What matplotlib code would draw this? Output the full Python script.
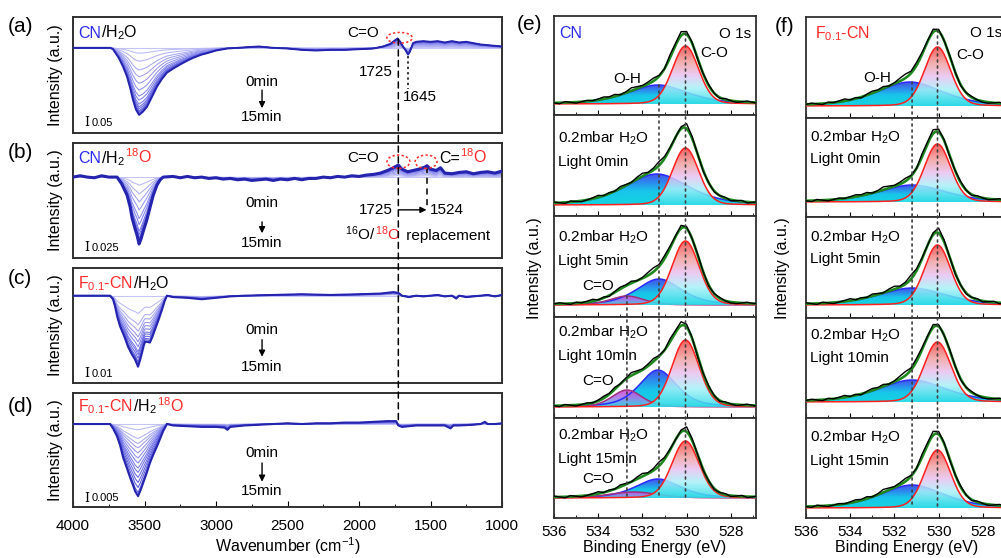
import numpy as np
import matplotlib
matplotlib.use('Agg')
import matplotlib.pyplot as plt
import matplotlib.transforms as mtransforms
from matplotlib.patches import Ellipse, ConnectionPatch
from matplotlib.colors import LinearSegmentedColormap

plt.rcParams.update({
    'font.family': ['Liberation Sans', 'DejaVu Sans'],
    'mathtext.fontset': 'custom',
    'mathtext.rm': 'Liberation Sans',
    'mathtext.it': 'Liberation Sans:italic',
    'mathtext.bf': 'Liberation Sans:bold',
    'axes.linewidth': 1.3,
    'axes.edgecolor': '#303030',
})

# ---------------- FTIR data (final 15 min spectrum shape, normalised) -------------
wn_a = [4000, 3800, 3740, 3720, 3680, 3650, 3622, 3600, 3580, 3560, 3538, 3510, 3483, 3450,
        3413, 3380, 3343, 3300, 3252, 3200, 3161, 3100, 3063, 3000, 2923, 2850, 2700, 2600,
        2500, 2400, 2300, 2200, 2100, 2000, 1900, 1832, 1780, 1750, 1730, 1715, 1692, 1670,
        1657, 1645, 1622, 1600, 1550, 1500, 1450, 1400, 1350, 1300, 1250, 1200, 1150, 1100,
        1050, 1000]
ir_a = [0, 0, 0, -0.02, -0.15, -0.28, -0.43, -0.6, -0.78, -0.92, -1.0, -0.95, -0.88, -0.74,
        -0.58, -0.47, -0.37, -0.31, -0.25, -0.19, -0.15, -0.1, -0.08, -0.04, -0.01, 0.0, 0.02, 0.0,
        -0.01, -0.03, -0.04, -0.03, -0.03, -0.02, -0.01, 0.02, 0.06, 0.11, 0.14, 0.1, 0.02, -0.05,
        -0.1, -0.06, 0.07, 0.09, 0.1, 0.09, 0.1, 0.08, 0.1, 0.08, 0.09, 0.07, 0.05, 0.04,
        0.03, 0.02]
scales_a = [0, 0.08, 0.2, 0.33, 0.43, 0.53, 0.63, 0.72, 0.78, 0.84, 0.88, 0.91, 0.94, 0.96, 0.98, 1.0]

wn_b = [4000, 3950, 3900, 3850, 3800, 3750, 3692, 3660, 3622, 3600, 3587, 3565, 3552, 3538,
        3525, 3510, 3485, 3462, 3440, 3413, 3390, 3370, 3300, 3250, 3200, 3150, 3100, 3050,
        3000, 2950, 2900, 2850, 2800, 2750, 2700, 2650, 2600, 2550, 2500, 2450, 2400, 2350,
        2300, 2250, 2200, 2150, 2100, 2050, 2000, 1950, 1900, 1850, 1800, 1760, 1725, 1700,
        1660, 1620, 1580, 1540, 1524, 1500, 1460, 1430, 1400, 1350, 1300, 1250, 1200, 1150,
        1100, 1050, 1000]
ir_b = [0, 0.02, 0.0, -0.01, 0.02, 0.0, 0.0, -0.1, -0.27, -0.45, -0.61, -0.78, -0.87, -1.0,
        -0.93, -0.82, -0.65, -0.46, -0.28, -0.12, -0.04, 0.0, 0.01, -0.01, 0.01, -0.01, 0.0, -0.02,
        -0.01, -0.03, -0.02, -0.04, -0.03, -0.05, -0.04, -0.03, -0.05, -0.03, -0.04, -0.02, -0.04, -0.02,
        -0.02, 0.0, -0.01, 0.01, 0.0, 0.02, 0.01, 0.03, 0.04, 0.06, 0.1, 0.14, 0.18, 0.12,
        0.08, 0.1, 0.12, 0.15, 0.17, 0.12, 0.1, 0.14, 0.06, 0.05, 0.07, 0.08, 0.05, 0.07,
        0.08, 0.06, 0.09]
scales_b = [0, 0.12, 0.25, 0.37, 0.49, 0.62, 0.71, 0.81, 0.86, 0.91, 0.95, 0.985, 1.0]

wn_c = [4000, 3800, 3741, 3720, 3706, 3690, 3671, 3640, 3615, 3590, 3566, 3545, 3530, 3517,
        3505, 3496, 3480, 3462, 3445, 3427, 3400, 3378, 3360, 3343, 3300, 3200, 3100, 3000,
        2900, 2800, 2600, 2400, 2200, 2000, 1850, 1760, 1725, 1700, 1650, 1600, 1550, 1500,
        1450, 1400, 1350, 1320, 1300, 1250, 1200, 1150, 1100, 1050, 1000]
ir_c = [0, 0, 0, -0.05, -0.15, -0.3, -0.43, -0.58, -0.72, -0.82, -0.9, -1.0, -0.9, -0.8,
        -0.7, -0.65, -0.65, -0.66, -0.58, -0.48, -0.33, -0.2, -0.08, 0.0, -0.02, -0.03, -0.05, -0.03,
        -0.01, 0.0, 0.01, 0.02, 0.01, 0.02, 0.03, 0.05, 0.04, 0.0, -0.02, 0.0, -0.01, 0.0,
        0.01, -0.01, 0.0, -0.04, 0.0, -0.02, -0.01, 0.0, 0.01, -0.01, 0.01]
scales_c = [0, 0.25, 0.41, 0.5, 0.58, 0.65, 0.72, 0.79, 0.83, 0.88, 0.93, 0.96, 1.0]

wn_d = [4000, 3780, 3741, 3720, 3692, 3670, 3650, 3625, 3601, 3580, 3566, 3545, 3528, 3510,
        3485, 3462, 3440, 3413, 3390, 3370, 3343, 3300, 3200, 3100, 3000, 2940, 2920, 2900,
        2800, 2700, 2600, 2500, 2400, 2300, 2200, 2100, 2000, 1900, 1800, 1740, 1725, 1700,
        1650, 1600, 1500, 1400, 1360, 1340, 1300, 1200, 1150, 1120, 1100, 1050, 1000]
ir_d = [0, 0, 0, -0.06, -0.17, -0.3, -0.46, -0.6, -0.74, -0.85, -0.93, -1.0, -0.92, -0.82,
        -0.68, -0.54, -0.43, -0.31, -0.2, -0.1, 0.0, -0.02, -0.03, -0.04, -0.04, -0.05, -0.08, -0.04,
        -0.02, -0.01, 0.0, 0.01, 0.0, 0.01, 0.01, 0.02, 0.02, 0.03, 0.04, 0.04, -0.02, -0.04,
        -0.03, -0.02, -0.02, -0.02, -0.06, -0.02, -0.02, -0.01, 0.0, 0.03, 0.0, 0.0, 0.01]
scales_d = [0, 0.08, 0.2, 0.27, 0.33, 0.4, 0.47, 0.54, 0.61, 0.67, 0.74, 0.81, 0.88, 0.95, 1.0]

ftir_ticks = [4000, 3500, 3000, 2500, 2000, 1500, 1000]

# ---------------- XPS peak parameters (pixel-height units) -------------------------
e_co_center = [530.05, 530.05, 530.05, 530.05, 530.05]
e_co_height = [58, 57, 64, 67, 57]
e_co_fwhm = [1.4, 1.4, 1.45, 1.45, 1.45]
e_oh_center = [531.3, 531.35, 531.25, 531.3, 531.3]
e_oh_height = [19, 31, 26, 37, 19]
e_oh_fwhm = [3.2, 3.4, 2.4, 2.0, 2.4]
e_cdo_center = [532.7, 532.7, 532.7, 532.7, 532.4]
e_cdo_height = [0, 0, 9, 17, 6]
e_cdo_fwhm = [1.8, 1.8, 1.8, 1.6, 2.6]

f_co_center = [530.05, 530.05, 530.05, 530.05, 530.05]
f_co_height = [59, 58, 60, 60, 58]
f_co_fwhm = [1.4, 1.4, 1.4, 1.45, 1.4]
f_oh_center = [531.3, 531.2, 531.2, 531.2, 531.2]
f_oh_height = [24, 17, 17, 22, 23]
f_oh_fwhm = [3.5, 3.6, 3.6, 3.6, 3.4]

res_A = [0, -1, 1, 0, -1, 0, 1, 0, 1, 2, 1, 2, 0, 1, 3, 2, 1, 2, 3, 1,
         0, 3, 2, 4, 3, 1, -1, 0, 1, 0, -1, 1, 0, -1, 0, 1, 0, -1]
res_B = [1, 0, -1, 1, 0, -1, 0, 1, 2, 0, 1, 0, 2, 1, 0, 2, 3, 1, 2, 4,
         2, 1, 0, 2, 5, 2, 0, -1, 0, -1, 0, 1, -1, 0, 1, -1, 0, 1]
res_C = [0, 1, 0, -1, 1, 0, 1, 2, 0, 1, -1, 1, 2, 1, 2, 0, 1, 3, 4, 2,
         3, 2, 1, 3, 2, 0, 1, 0, -1, 0, 1, 0, -1, -1, 0, 1, 0, 0]
e_res = [res_A, res_B, res_C, res_A, res_B]
f_res = [res_C, res_A, res_B, res_C, res_A]

xps_ticks = [536, 534, 532, 530, 528]
e_conditions = [None, 'Light 0min', 'Light 5min', 'Light 10min', 'Light 15min']
f_conditions = [None, 'Light 0min', 'Light 5min', 'Light 10min', 'Light 15min']

# ---------------------------------------------------------------------------------
W, H = 1001, 558
fig = plt.figure(figsize=(W / 100, H / 100), dpi=100)
RED = '#ff2a2a'
BLUE = '#2a2aee'


def fax(x0, y0, x1, y1):
    return fig.add_axes([x0 / W, 1 - y1 / H, (x1 - x0) / W, (y1 - y0) / H])


def multicolor(ax, x, y, parts, fontsize=11.5):
    renderer = fig.canvas.get_renderer()
    t = ax.transData
    for p in parts:
        s, c = p[0], p[1]
        dx = p[2] if len(p) > 2 else 0
        if dx:
            t = mtransforms.offset_copy(t, fig=fig, x=dx, units='dots')
        txt = ax.text(x, y, s, color=c, transform=t, fontsize=fontsize,
                      va='baseline', ha='left')
        ex = txt.get_window_extent(renderer)
        t = mtransforms.offset_copy(txt.get_transform(), fig=fig, x=ex.width, units='dots')


blue_cmap = LinearSegmentedColormap.from_list('bl', ['#c4c4f6', '#8080ee', '#4646d2'])


def draw_ftir(ax, wn, ir, scales, lw_final=1.7):
    ir = np.array(ir)
    n = len(scales)
    for i, s in enumerate(scales):
        if i == n - 1:
            ax.plot(wn, ir * s, color='#2424ae', lw=lw_final, zorder=3)
        else:
            ax.plot(wn, ir * s, color=blue_cmap(i / (n - 1)), lw=0.75, zorder=2)
    ax.set_xlim(4000, 1000)
    ax.set_yticks([])
    ax.yaxis.set_label_coords(-0.023, 0.5)
    ax.set_ylabel('Intensity (a.u.)', fontsize=11.5)
    for sp in ax.spines.values():
        sp.set_linewidth(1.4)


left_boxes = [(17, 133), (143, 258), (268, 383), (393, 507)]
ylims = [(-1.27, 0.46), (-1.21, 0.51), (-1.23, 0.39), (-1.15, 0.43)]
datasets = [(wn_a, ir_a, scales_a), (wn_b, ir_b, scales_b), (wn_c, ir_c, scales_c), (wn_d, ir_d, scales_d)]
final_lw = [1.4, 2.2, 1.5, 1.5]
lax = []
for (y0, y1), yl, (wn, ir, sc), lwf in zip(left_boxes, ylims, datasets, final_lw):
    ax = fax(73, y0, 502, y1)
    draw_ftir(ax, wn, ir, sc, lwf)
    ax.set_ylim(*yl)
    lax.append(ax)

for ax in lax[:3]:
    ax.tick_params(bottom=False, labelbottom=False)
axd = lax[3]
axd.set_xticks(ftir_ticks)
axd.set_xticks(np.arange(1250, 4000, 500), minor=True)
axd.tick_params(axis='x', which='major', direction='in', length=4, labelsize=11, pad=8.5)
axd.tick_params(axis='x', which='minor', direction='in', length=2.5)
axd.set_xlabel('Wavenumber (cm$^{-1}$)', fontsize=11.5, labelpad=2)

# labels in FTIR panels
multicolor(lax[0], 3965, 0.15, [('CN', BLUE), ('/H$_2$O', 'k')])
multicolor(lax[1], 3965, 0.21, [('CN', BLUE), ('/H$_2$', 'k'), ('$^{18}$O', RED)])
multicolor(lax[2], 3965, 0.11, [('F$_{0.1}$-CN', RED), ('/H$_2$O', 'k')])
multicolor(lax[3], 3965, 0.17, [('F$_{0.1}$-CN', RED), ('/H$_2$', 'k'), ('$^{18}$O', RED)])

time_pos = [(-0.51, -0.63, -0.90, -1.03), (-0.39, -0.67, -0.84, -0.99),
            (-0.48, -0.62, -0.86, -1.01), (-0.40, -0.54, -0.80, -0.93)]
scale_txt = ['0.05', '0.025', '0.01', '0.005']
scale_y = [-1.12, -1.06, -1.10, -1.03]
for ax, (t0, a0, a1, t1), st, sy in zip(lax, time_pos, scale_txt, scale_y):
    ax.text(2678, t0, '0min', ha='center', va='center', fontsize=11)
    ax.annotate('', xy=(2678, a1), xytext=(2678, a0),
                arrowprops=dict(arrowstyle='-|>', color='k', lw=1.0, mutation_scale=9,
                                shrinkA=0, shrinkB=0))
    ax.text(2678, t1, '15min', ha='center', va='center', fontsize=11)
    ax.text(3902, sy, 'I', fontfamily='DejaVu Serif', fontsize=9, ha='center', va='center')
    ax.text(3868, sy, st, fontsize=8, ha='left', va='center')

# (a) annotations
axa = lax[0]
axa.text(1972, 0.22, 'C=O', ha='center', va='center', fontsize=11)
axa.text(1762, -0.36, '1725', ha='right', va='center', fontsize=11)
axa.text(1692, -0.73, '1645', ha='left', va='center', fontsize=11)
axa.plot([1657, 1657], [-0.12, -0.62], ls=(0, (1.5, 2)), color='k', lw=1.1)
axa.add_patch(Ellipse((1716, 0.15), 178, 0.16, fill=False, ec=RED, ls=(0, (1.5, 1.5)), lw=1.1, zorder=5))

# (b) annotations
axb = lax[1]
axb.text(1970, 0.28, 'C=O', ha='center', va='center', fontsize=11)
multicolor(axb, 1440, 0.21, [('C=', 'k'), ('$^{18}$O', RED)], fontsize=11.5)
axb.add_patch(Ellipse((1724, 0.23), 160, 0.2, fill=False, ec=RED, ls=(0, (1.5, 1.5)), lw=1.1, zorder=5))
axb.add_patch(Ellipse((1531, 0.23), 153, 0.2, fill=False, ec=RED, ls=(0, (1.5, 1.5)), lw=1.1, zorder=5))
axb.plot([1524, 1524], [0.15, -0.45], ls=(0, (4, 3)), color='k', lw=1.1)
axb.annotate('', xy=(1528, -0.49), xytext=(1725, -0.49),
             arrowprops=dict(arrowstyle='-|>', color='k', lw=1.0, mutation_scale=9, shrinkA=0, shrinkB=0))
axb.text(1762, -0.49, '1725', ha='right', va='center', fontsize=11)
axb.text(1505, -0.49, '1524', ha='left', va='center', fontsize=11)
multicolor(axb, 2100, -0.94, [('$^{16}$O/', 'k'), ('$^{18}$O', RED), (' replacement', 'k', 1)], fontsize=11)

# long dashed line at 1725
con = ConnectionPatch(xyA=(1725, 0.13), coordsA=lax[0].transData,
                      xyB=(1725, 0.0), coordsB=lax[3].transData,
                      ls=(0, (4, 3)), color='k', lw=1.1)
fig.add_artist(con)

# panel letters
for lab, yy in zip(['(a)', '(b)', '(c)', '(d)'], [26, 153, 279, 406]):
    fig.text(8 / W, 1 - yy / H, lab, fontsize=15, va='center', ha='left')
fig.text(517 / W, 1 - 24 / H, '(e)', fontsize=15, va='center', ha='left')
fig.text(775 / W, 1 - 26 / H, '(f)', fontsize=15, va='center', ha='left')

# ---------------- XPS ----------------------------------------------------------------
co_cmap = LinearSegmentedColormap.from_list('co', [(0, '#30dce8'), (0.28, '#a8f2f8'), (0.5, '#e8c2f2'),
                                                   (0.72, '#f2a2a2'), (1, '#f04444')])
oh_cmap = LinearSegmentedColormap.from_list('oh', [(0, '#14d4e0'), (0.45, '#18c6ea'),
                                                   (0.75, '#2e86ee'), (1, '#4650ea')])
cdo_cmap = LinearSegmentedColormap.from_list('cdo', [(0, '#30d8e6'), (0.5, '#a080e8'), (1, '#e040d8')])

be_fine = np.linspace(536.3, 526.5, 600)
be_raw = np.linspace(536, 526.75, 38)


def pvoigt(x, c, h, fwhm, eta):
    g = np.exp(-4 * np.log(2) * ((x - c) / fwhm) ** 2)
    lor = 1.0 / (1.0 + 4 * ((x - c) / fwhm) ** 2)
    return h * (eta * lor + (1 - eta) * g)


def grad_fill(ax, x, y, cmap, edge, z, alpha):
    poly = ax.fill(np.r_[x, x[::-1]], np.r_[y, np.zeros_like(y)], facecolor='none', edgecolor='none')[0]
    img = ax.imshow(np.linspace(0, 1, 256).reshape(-1, 1), cmap=cmap, aspect='auto', origin='lower',
                    extent=(x.max(), x.min(), 0, y.max()), zorder=z, alpha=alpha, interpolation='bilinear')
    img.set_clip_path(poly)
    ax.plot(x, y, color=edge, lw=1.1, zorder=z + 0.5)


def draw_xps(ax, peaks, res, base, h):
    env = np.zeros_like(be_fine)
    env_raw = np.zeros_like(be_raw)
    for (c, hh, fw, eta, cmap, edge, z, al) in peaks:
        if hh <= 0:
            continue
        y = pvoigt(be_fine, c, hh, fw, eta)
        env += y
        env_raw += pvoigt(be_raw, c, hh, fw, eta)
        grad_fill(ax, be_fine, y, cmap, edge, z, al)
    ax.plot(be_fine, env, color='#1e8a1e', lw=1.9, zorder=6)
    ax.plot(be_raw, env_raw + np.array(res), color='k', lw=1.0, zorder=7)
    ax.set_xlim(536, 526.86)
    ax.set_ylim(-base, h - base)
    ax.set_yticks([])
    ax.set_xticks(xps_ticks)
    ax.set_xticks([535, 533, 531, 529, 527], minor=True)
    ax.tick_params(axis='x', which='both', direction='in', bottom=True, top=False,
                   labelbottom=False, length=3.5)
    ax.tick_params(axis='x', which='minor', length=2)


e_edges = [16, 115, 216, 317, 418, 518]
e_bases = [11, 11, 12, 11, 20]
f_edges = [17, 118, 217, 318, 418, 518]
f_bases = [12, 15, 13, 16, 10]
eax, fax_list = [], []
for i in range(5):
    ax = fax(554, e_edges[i], 756, e_edges[i + 1])
    peaks = [(e_oh_center[i], e_oh_height[i], e_oh_fwhm[i], 0.5, oh_cmap, '#2b2bff', 2, 1.0),
             (e_cdo_center[i], e_cdo_height[i], e_cdo_fwhm[i], 0.3, cdo_cmap, '#a0307e', 2.2, 0.9),
             (e_co_center[i], e_co_height[i], e_co_fwhm[i], 0.15, co_cmap, '#ff2020', 3, 0.85)]
    draw_xps(ax, peaks, e_res[i], e_bases[i], e_edges[i + 1] - e_edges[i])
    eax.append(ax)
    ax = fax(806, f_edges[i], 1008, f_edges[i + 1])
    peaks = [(f_oh_center[i], f_oh_height[i], f_oh_fwhm[i], 0.5, oh_cmap, '#2b2bff', 2, 1.0),
             (f_co_center[i], f_co_height[i], f_co_fwhm[i], 0.15, co_cmap, '#ff2020', 3, 0.85)]
    draw_xps(ax, peaks, f_res[i], f_bases[i], f_edges[i + 1] - f_edges[i])
    fax_list.append(ax)

for ax in (eax[-1], fax_list[-1]):
    ax.tick_params(axis='x', which='major', labelbottom=True, labelsize=11, pad=5)
    ax.set_xlabel('Binding Energy (eV)', fontsize=11.5, labelpad=1)

fig.text(535 / W, 1 - 268 / H, 'Intensity (a.u.)', rotation=90, fontsize=11.5, ha='center', va='center')
fig.text(782 / W, 1 - 268 / H, 'Intensity (a.u.)', rotation=90, fontsize=11.5, ha='center', va='center')

# XPS labels
e0 = eax[0]
e0.text(535.77, 66, 'CN', color=BLUE, fontsize=11.5, va='baseline')
e0.text(527.1, 66, 'O 1s', fontsize=11, va='baseline', ha='right')
e0.text(529.4, 51, 'C-O', fontsize=11, va='center', ha='left')
e0.text(532.7, 25, 'O-H', fontsize=11, va='center', ha='center')
f0 = fax_list[0]
f0.text(535.6, 68, 'F$_{0.1}$-CN', color=RED, fontsize=11.5, va='baseline')
f0.text(528.6, 69, 'O 1s', fontsize=11, va='baseline', ha='left')
f0.text(529.2, 51, 'C-O', fontsize=11, va='center', ha='left')
f0.text(532.8, 28, 'O-H', fontsize=11, va='center', ha='center')

e_txt_y = [None, (62, 39), (63, 40), (70, 47), (58, 35)]
f_txt_y = [None, (60, 39), (63, 42), (62, 40), (66, 43)]
for i in range(1, 5):
    y1, y2 = e_txt_y[i]
    eax[i].text(535.8, y1, '0.2mbar H$_2$O', fontsize=11, va='baseline')
    eax[i].text(535.8, y2, e_conditions[i], fontsize=11, va='baseline')
    y1, y2 = f_txt_y[i]
    fax_list[i].text(535.8, y1, '0.2mbar H$_2$O', fontsize=11, va='baseline')
    fax_list[i].text(535.8, y2, f_conditions[i], fontsize=11, va='baseline')
eax[2].text(534.0, 19, 'C=O', fontsize=11, va='center', ha='center')
eax[3].text(534.0, 26, 'C=O', fontsize=11, va='center', ha='center')
eax[4].text(534.0, 19, 'C=O', fontsize=11, va='center', ha='center')

dot = (0, (1.2, 2.4))
for axs, x, ytop, top_i in [(eax, 531.25, 19, 0), (eax, 530.05, 71, 0), (eax, 532.7, 9, 2),
                            (fax_list, 531.2, 24, 0), (fax_list, 530.05, 76, 0)]:
    c = ConnectionPatch(xyA=(x, ytop), coordsA=axs[top_i].transData,
                        xyB=(x, 0), coordsB=axs[4].transData,
                        ls=dot, color='#404040', lw=1.2)
    fig.add_artist(c)

fig.savefig('out.png', dpi=100)
